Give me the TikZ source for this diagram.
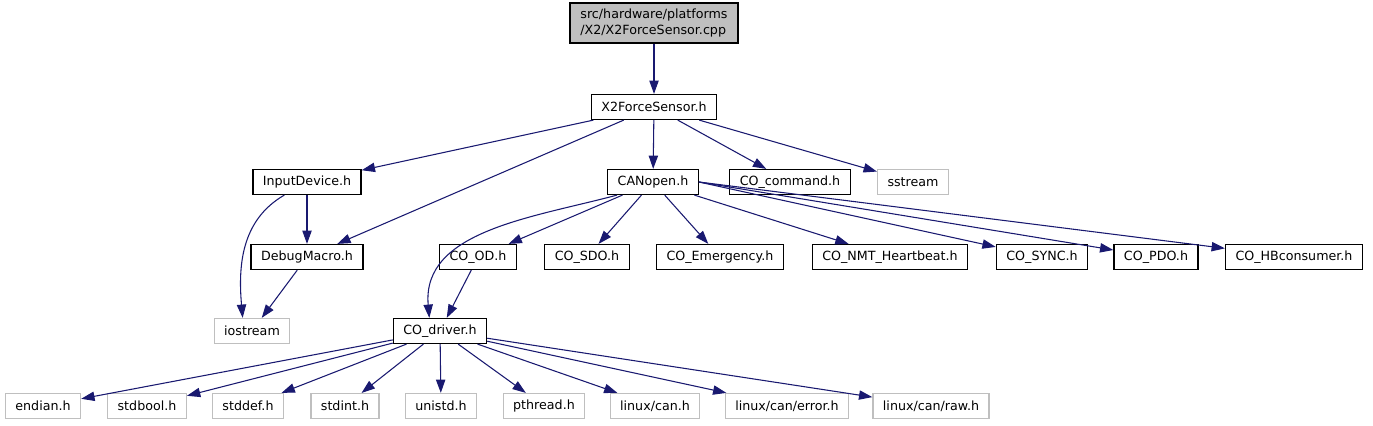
\documentclass[tikz,border=0pt]{standalone}
\usepackage{fontspec}
\setmainfont{DejaVu Sans}
\usepackage{xcolor}
\usetikzlibrary{arrows.meta}
\definecolor{edgeblue}{HTML}{191970}
\definecolor{grey75}{HTML}{BFBFBF}

\begin{document}
\begin{tikzpicture}[x=0.75pt,y=-0.75pt,
  file/.style={draw=black,line width=0.9pt,fill=white,font=\fontsize{9.5}{12}\selectfont,inner xsep=7.5pt,inner ysep=0pt,minimum height=18.75pt},
  ext/.style={file,draw=grey75},
  dep/.style={draw=edgeblue,line width=0.8pt,-{Triangle[length=10pt,width=7pt]}}]
\useasboundingbox (0,0) rectangle (1373,425);
% top file and its header
\node[file,fill=grey75,align=left,minimum width=126pt,minimum height=30pt] (src) at (654,23) {src/hardware/platforms\\/X2/X2ForceSensor.cpp};
\node[file] (x2fs) at (654,107) {X2ForceSensor.h};
% second row
\node[file] (inputdev) at (307,182) {InputDevice.h};
\node[file] (canopen) at (653,182) {CANopen.h};
\node[file] (cocmd) at (790,182) {CO\_command.h};
\node[ext] (sstream) at (913,182) {sstream};
% third row
\node[file] (debug) at (307,257) {DebugMacro.h};
\node[file] (cood) at (478,257) {CO\_OD.h};
\node[file] (cosdo) at (587,257) {CO\_SDO.h};
\node[file] (coemcy) at (720,257) {CO\_Emergency.h};
\node[file] (conmt) at (890,257) {CO\_NMT\_Heartbeat.h};
\node[file] (cosync) at (1042,257) {CO\_SYNC.h};
\node[file] (copdo) at (1156,257) {CO\_PDO.h};
\node[file] (cohb) at (1294,257) {CO\_HBconsumer.h};
% fourth row
\node[ext] (iostream) at (252,331) {iostream};
\node[file] (codriver) at (440,331) {CO\_driver.h};
% system headers
\node[ext] (endian) at (43,406) {endian.h};
\node[ext] (stdbool) at (147,406) {stdbool.h};
\node[ext] (stddef) at (248,406) {stddef.h};
\node[ext] (stdint) at (345,406) {stdint.h};
\node[ext] (unistd) at (441,406) {unistd.h};
\node[ext] (pthread) at (544,406) {pthread.h};
\node[ext] (lcan) at (655,406) {linux/can.h};
\node[ext] (lcanerr) at (787,406) {linux/can/error.h};
\node[ext] (lcanraw) at (931,406) {linux/can/raw.h};

\draw[dep] (src) -- (x2fs);
\foreach \t in {inputdev,debug,canopen,cocmd,sstream}{\draw[dep] (x2fs) -- (\t);}
\draw[dep] (inputdev) -- (debug);
\draw[dep] (inputdev.210) to[out=210,in=95] ([xshift=-7pt]iostream.north);
\draw[dep] (debug) -- (iostream);
\foreach \t in {cood,cosdo,coemcy,conmt}{\draw[dep] (canopen) -- (\t);}
\foreach \t in {cosync,copdo,cohb}{\draw[dep] (canopen.east) -- (\t);}
\draw[dep] (canopen.200) to[out=195,in=95] ([xshift=-8pt]codriver.north);
\draw[dep] (cood) -- (codriver);
\foreach \t in {endian,stdbool,stddef,stdint,unistd,pthread,lcan,lcanerr,lcanraw}{\draw[dep] (codriver) -- (\t);}
\end{tikzpicture}
\end{document}
